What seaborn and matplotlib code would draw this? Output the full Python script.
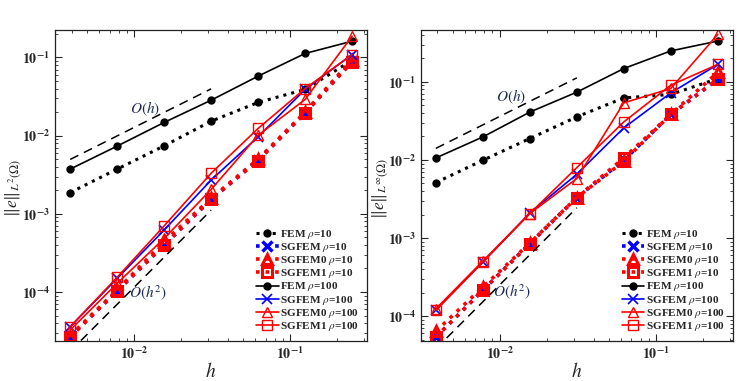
import numpy as np
import pandas as pd
import matplotlib
matplotlib.use("Agg")
import matplotlib.pyplot as plt
import matplotlib.ticker as mticker
import seaborn as sns

H = [1 / 256, 1 / 128, 1 / 64, 1 / 32, 1 / 16, 1 / 8, 1 / 4]

# L2 errors
L2_FEM_10 = [1.87e-3, 3.73e-3, 7.4e-3, 1.53e-2, 2.66e-2, 3.9e-2, 9.2e-2]
L2_SGFEM_10 = [2.67e-5, 1.03e-4, 3.98e-4, 1.53e-3, 4.86e-3, 1.96e-2, 8.9e-2]
L2_SGFEM0_10 = [2.75e-5, 1.06e-4, 4.4e-4, 1.58e-3, 5.0e-3, 2.0e-2, 9.4e-2]
L2_SGFEM1_10 = [2.67e-5, 1.03e-4, 4.0e-4, 1.53e-3, 4.8e-3, 1.95e-2, 8.8e-2]
L2_FEM_100 = [3.73e-3, 7.35e-3, 1.475e-2, 2.84e-2, 5.77e-2, 1.125e-1, 1.615e-1]
L2_SGFEM_100 = [3.59e-5, 1.49e-4, 6.2e-4, 2.7e-3, 9.66e-3, 3.9e-2, 1.09e-1]
L2_SGFEM0_100 = [3.26e-5, 1.29e-4, 4.84e-4, 2.05e-3, 1.01e-2, 2.9e-2, 1.87e-1]
L2_SGFEM1_100 = [3.59e-5, 1.54e-4, 7.0e-4, 3.3e-3, 1.235e-2, 4.0e-2, 1.09e-1]

# Linf errors
LI_FEM_10 = [5.13e-3, 9.9e-3, 1.88e-2, 3.56e-2, 6.23e-2, 6.9e-2, 1.1e-1]
LI_SGFEM_10 = [5.38e-5, 2.14e-4, 8.47e-4, 3.3e-3, 9.9e-3, 3.82e-2, 1.08e-1]
LI_SGFEM0_10 = [6.4e-5, 2.35e-4, 8.6e-4, 3.3e-3, 9.6e-3, 3.85e-2, 1.32e-1]
LI_SGFEM1_10 = [5.38e-5, 2.14e-4, 8.47e-4, 3.3e-3, 1.06e-2, 3.82e-2, 1.08e-1]
LI_FEM_100 = [1.06e-2, 1.97e-2, 4.1e-2, 7.38e-2, 1.48e-1, 2.49e-1, 3.33e-1]
LI_SGFEM_100 = [1.21e-4, 4.92e-4, 2.09e-3, 6.56e-3, 2.57e-2, 7.22e-2, 1.67e-1]
LI_SGFEM0_100 = [1.24e-4, 5.07e-4, 2.06e-3, 5.78e-3, 5.38e-2, 8.22e-2, 4.05e-1]
LI_SGFEM1_100 = [1.18e-4, 4.92e-4, 2.06e-3, 7.98e-3, 3.07e-2, 9.07e-2, 1.67e-1]

H_REF = [1 / 256, 1 / 32]
L2_REF = [1.27, 1.14]   # constants for O(h), O(h^2)
LI_REF = [3.6, 2.5]

LABELS = ["FEM $\\rho$=10", "SGFEM $\\rho$=10", "SGFEM0 $\\rho$=10", "SGFEM1 $\\rho$=10",
          "FEM $\\rho$=100", "SGFEM $\\rho$=100", "SGFEM0 $\\rho$=100", "SGFEM1 $\\rho$=100"]

STYLES = [
    dict(color="black", ls=":", lw=2.2, marker="o", ms=5, mfc="black", mew=1),
    dict(color="blue", ls=":", lw=2.6, marker="x", ms=7, mfc="blue", mew=2.5),
    dict(color="red", ls=":", lw=2.6, marker="^", ms=7, mfc="none", mew=2.2),
    dict(color="red", ls=":", lw=2.6, marker="s", ms=7, mfc="none", mew=2.2),
    dict(color="black", ls="-", lw=1.2, marker="o", ms=5, mfc="black", mew=1),
    dict(color="blue", ls="-", lw=1.2, marker="x", ms=7, mfc="blue", mew=1.2),
    dict(color="red", ls="-", lw=1.2, marker="^", ms=7, mfc="none", mew=1.0),
    dict(color="red", ls="-", lw=1.2, marker="s", ms=7.5, mfc="none", mew=1.0),
]

sns.set_theme(style="ticks")
plt.rcParams["font.family"] = ["Liberation Serif", "DejaVu Serif"]
plt.rcParams["mathtext.fontset"] = "stix"
plt.rcParams["xtick.direction"] = "in"
plt.rcParams["ytick.direction"] = "in"


def log_fmt(v, pos):
    e = int(round(np.log10(v)))
    return "$\\mathbf{10^{%d}}$" % e


def draw(ax, series, ref, ylim, ylabel, ylab_x, txt1, txt2):
    for vals, lab, st in zip(series, LABELS, STYLES):
        df = pd.DataFrame({"h": H, "e": vals})
        sns.lineplot(data=df, x="h", y="e", ax=ax, label=lab, color=st["color"],
                     linestyle=st["ls"], linewidth=st["lw"], marker=st["marker"],
                     markersize=st["ms"], markerfacecolor=st["mfc"],
                     markeredgecolor=st["color"], markeredgewidth=st["mew"])
    href = np.array(H_REF)
    ax.plot(href, ref[0] * href, color="black", ls=(0, (6, 4)), lw=1.1)
    ax.plot(href, ref[1] * href ** 2, color="black", ls=(0, (6, 4)), lw=1.1)
    ax.set_xscale("log")
    ax.set_yscale("log")
    ax.set_xlim(0.003125, 0.3125)
    ax.set_ylim(*ylim)
    ax.xaxis.set_major_formatter(mticker.FuncFormatter(log_fmt))
    ax.yaxis.set_major_formatter(mticker.FuncFormatter(log_fmt))
    ax.xaxis.set_minor_formatter(mticker.NullFormatter())
    ax.yaxis.set_minor_locator(mticker.LogLocator(base=10, subs=np.arange(2, 10), numticks=20))
    ax.yaxis.set_minor_formatter(mticker.NullFormatter())
    ax.tick_params(which="both", top=True, right=True, labelsize=10)
    ax.tick_params(which="major", length=5, width=0.8)
    ax.tick_params(which="minor", length=2.5, width=0.6)
    for s in ax.spines.values():
        s.set_linewidth(0.9)
        s.set_color("#222222")
    ax.set_xlabel("$h$", fontsize=14, labelpad=0)
    ax.set_ylabel(ylabel, fontsize=12.5)
    ax.yaxis.set_label_coords(ylab_x, 0.49)
    ax.text(*txt1, "$O(h)$", fontsize=11, color="#1a2a55", ha="center", va="center")
    ax.text(*txt2, "$O(h^2)$", fontsize=11, color="#1a2a55", ha="center", va="center")
    ax.legend(loc="lower right", frameon=False,
              prop={"weight": "bold", "size": 8.1}, labelspacing=0.02,
              handlelength=2.0, handletextpad=0.15, borderaxespad=0.5,
              borderpad=0.2, handleheight=0.6)


fig = plt.figure(figsize=(7.54, 3.81), dpi=100)
ax1 = fig.add_axes([0.073, 0.105, 0.414, 0.816])
ax2 = fig.add_axes([0.558, 0.105, 0.414, 0.816])

draw(ax1, [L2_FEM_10, L2_SGFEM_10, L2_SGFEM0_10, L2_SGFEM1_10,
           L2_FEM_100, L2_SGFEM_100, L2_SGFEM0_100, L2_SGFEM1_100],
     L2_REF, (2.36e-5, 0.224), "$\\|e\\|_{L^2(\\Omega)}$", -0.098,
     (0.0118, 0.0218), (0.0123, 9.7e-5))
draw(ax2, [LI_FEM_10, LI_SGFEM_10, LI_SGFEM0_10, LI_SGFEM1_10,
           LI_FEM_100, LI_SGFEM_100, LI_SGFEM0_100, LI_SGFEM1_100],
     LI_REF, (4.8e-5, 0.46), "$\\|e\\|_{L^\\infty(\\Omega)}$", -0.095,
     (0.0118, 0.064), (0.0121, 2.09e-4))

fig.savefig("out.png", dpi=100)
